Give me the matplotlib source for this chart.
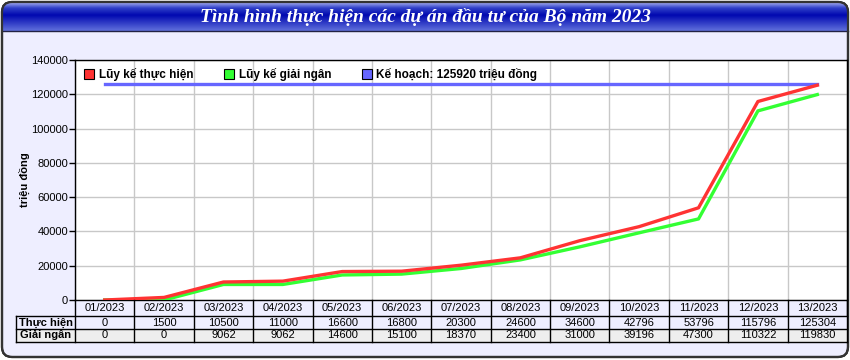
import matplotlib.pyplot as plt
import numpy as np
from matplotlib.lines import Line2D
from matplotlib.patches import FancyBboxPatch, Rectangle
from matplotlib.colors import LinearSegmentedColormap

plt.rcParams['font.family'] = ['Liberation Sans', 'DejaVu Sans']

# Data
months = ['01/2023', '02/2023', '03/2023', '04/2023', '05/2023', '06/2023', '07/2023',
          '08/2023', '09/2023', '10/2023', '11/2023', '12/2023', '13/2023']
thuc_hien = [0, 1500, 10500, 11000, 16600, 16800, 20300, 24600, 34600, 42796, 53796, 115796, 125304]
giai_ngan = [0, 0, 9062, 9062, 14600, 15100, 18370, 23400, 31000, 39196, 47300, 110322, 119830]
ke_hoach = 125920

title = 'Tình hình thực hiện các dự án đầu tư của Bộ năm 2023'
row_labels = ['Thực hiện', 'Giải ngân']

red = '#FF3333'
green = '#33FF33'
blue = '#6666FF'
bg = '#EEEEFF'

W, H = 850, 360
fig = plt.figure(figsize=(W / 100, H / 100), dpi=100)
fig.patch.set_facecolor('white')

# background / frame in pixel coords
back = fig.add_axes([0, 0, 1, 1])
back.set_xlim(0, W)
back.set_ylim(H, 0)
back.axis('off')
frame = FancyBboxPatch((2, 2), W - 4, 355, boxstyle='round,pad=0,rounding_size=10',
                       facecolor=bg, edgecolor='#333333', lw=1.6, zorder=1)
back.add_patch(frame)
cmap = LinearSegmentedColormap.from_list('bar', [(0, '#A8B0F0'), (0.2, '#3040C8'),
                                                  (0.45, '#0008B0'), (1, '#6070DC')])
grad = np.linspace(0, 1, 60).reshape(-1, 1)
im = back.imshow(grad, cmap=cmap, extent=(2, W - 2, 31, 2), aspect='auto', zorder=2)
im.set_clip_path(frame)
back.plot([2, W - 2], [31, 31], color='#222244', lw=1, zorder=3)
frame2 = FancyBboxPatch((2, 2), W - 4, 355, boxstyle='round,pad=0,rounding_size=10',
                        facecolor='none', edgecolor='#333333', lw=1.6, zorder=4)
back.add_patch(frame2)
back.text(W / 2, 17, title, ha='center', va='center', color='white', fontsize=14,
          fontweight='bold', fontstyle='italic', family=['Liberation Serif', 'DejaVu Serif'], zorder=5)

# main chart
ax = fig.add_axes([75 / W, (H - 300) / H, 772 / W, 240 / H])
ax.set_facecolor('white')
x = np.arange(len(months))
ax.plot(x, giai_ngan, color=green, lw=2.4, zorder=3)
ax.plot(x, thuc_hien, color=red, lw=2.4, zorder=4)
ax.plot(x, [ke_hoach] * len(x), color=blue, lw=2.4, zorder=2)

ax.set_xlim(-0.5, len(months) - 0.5)
ax.set_ylim(0, 140000)
ax.set_yticks(np.arange(0, 140001, 20000))
ax.set_xticks(np.arange(len(months) + 1) - 0.5)
ax.set_xticklabels([])
ax.tick_params(axis='x', length=0)
ax.tick_params(axis='y', length=4, width=1, labelsize=8, pad=1, color='black')
ax.grid(True, color='#C8C8C8', lw=1)
ax.set_axisbelow(True)
for s in ax.spines.values():
    s.set_color('black')
    s.set_linewidth(1)
ax.set_ylabel('triệu đồng', fontsize=8, fontweight='bold')
ax.yaxis.set_label_coords(-(75 - 30) / 772, 0.5)

legend_elements = [
    Line2D([0], [0], marker='s', ls='', markersize=7, markerfacecolor=red, markeredgecolor='black', markeredgewidth=0.8, label='Lũy kế thực hiện'),
    Line2D([0], [0], marker='s', ls='', markersize=7, markerfacecolor=green, markeredgecolor='black', markeredgewidth=0.8, label='Lũy kế giải ngân'),
    Line2D([0], [0], marker='s', ls='', markersize=7, markerfacecolor=blue, markeredgecolor='black', markeredgewidth=0.8, label=f'Kế hoạch: {ke_hoach} triệu đồng'),
]
leg = ax.legend(handles=legend_elements, loc='upper left', ncol=3, frameon=False,
                prop={'size': 8.5, 'weight': 'bold'}, handlelength=0.8, handletextpad=0.4,
                columnspacing=2.65, borderaxespad=0.2, bbox_to_anchor=(0.003, 0.995))

# data table below the axis
tr = ax.get_xaxis_transform()
ys = [0, -16 / 240, -29 / 240, -42 / 240]
lab_left = -0.5 - 59 / 59.4
rows = [thuc_hien, giai_ngan]
row_bg = [bg, '#EEEEEE']
for r in range(2):
    ax.add_patch(Rectangle((lab_left, ys[r + 2]), len(months) - lab_left - 0.5,
                           ys[r + 1] - ys[r + 2], transform=tr, facecolor=row_bg[r],
                           edgecolor='none', clip_on=False, zorder=1))
lk = dict(transform=tr, color='black', lw=1, clip_on=False, zorder=5)
ax.plot([lab_left, len(months) - 0.5], [ys[1], ys[1]], **lk)
ax.plot([lab_left, len(months) - 0.5], [ys[2], ys[2]], **lk)
ax.plot([lab_left, len(months) - 0.5], [ys[3], ys[3]], **lk)
ax.plot([lab_left, lab_left], [ys[1], ys[3]], **lk)
for k in range(len(months) + 1):
    ax.plot([k - 0.5, k - 0.5], [ys[0], ys[3]], **lk)
for i, m in enumerate(months):
    ax.text(i, (ys[0] + ys[1]) / 2, m, transform=tr, ha='center', va='center', fontsize=8, clip_on=False)
    for r in range(2):
        ax.text(i, (ys[r + 1] + ys[r + 2]) / 2, f'{rows[r][i]}', transform=tr, ha='center', va='center',
                fontsize=8, clip_on=False)
for r in range(2):
    ax.text((lab_left - 0.5) / 2, (ys[r + 1] + ys[r + 2]) / 2, row_labels[r], transform=tr,
            ha='center', va='center', fontsize=8, fontweight='bold', clip_on=False)

plt.savefig('out.png', dpi=100)
